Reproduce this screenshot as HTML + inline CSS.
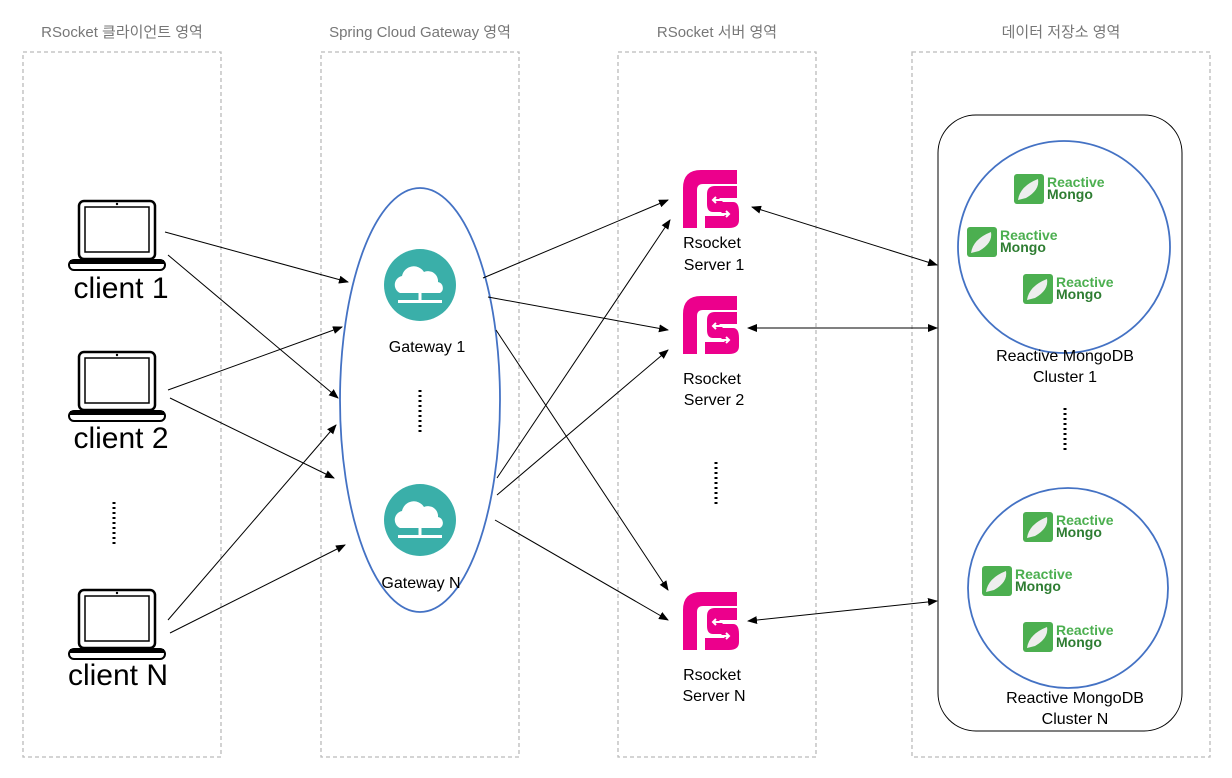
<!DOCTYPE html>
<html><head><meta charset="utf-8"><style>
html,body{margin:0;padding:0;background:#fff}
svg{display:block}
text{font-family:"Liberation Sans","Noto Sans CJK KR",sans-serif}
</style></head><body>
<svg width="1232" height="778" viewBox="0 0 1232 778" xmlns="http://www.w3.org/2000/svg">
<defs>
<marker id="a" markerWidth="10" markerHeight="8" refX="9" refY="4" orient="auto-start-reverse" markerUnits="userSpaceOnUse"><path d="M0,0 L10,4 L0,8 z" fill="#000"/></marker>
<g id="lap">
<rect x="12" y="0" width="76" height="58" rx="5" fill="none" stroke="#000" stroke-width="2.5"/>
<rect x="18" y="6" width="64" height="45" fill="none" stroke="#000" stroke-width="1.5"/>
<circle cx="50" cy="3" r="1.2" fill="#000"/>
<rect x="2" y="59" width="96" height="10" rx="5" fill="none" stroke="#000" stroke-width="2"/>
<rect x="3" y="59" width="94" height="4" fill="#000"/>
</g>
<g id="gw">
<circle cx="0" cy="0" r="36" fill="#3aafa9"/>
<path d="M-20,8 a9,9 0 0 1 2,-17 a12,12 0 0 1 22,-4 a10,10 0 0 1 14,10 a6,6 0 0 1 2,11 z" fill="#fff"/>
<rect x="-1.5" y="8" width="3" height="8" fill="#fff"/>
<rect x="-22" y="15" width="44" height="3" fill="#fff"/>
</g>
<g id="rs">
<path d="M0,58 L0,18 Q0,0 18,0 L54,0 L54,14 L20,14 Q14,14 14,20 L14,58 z" fill="#ec008c"/>
<path d="M24,24 Q24,16 32,16 L54,16 L54,28 L36,28 L40,32 L50,32 Q56,32 56,42 L56,50 Q56,58 46,58 L22,58 L22,46 L42,46 L38,42 L30,42 Q24,42 24,34 z" fill="#ec008c"/>
<path d="M30,30 L44,30 M33,27 L30,30 L33,33 M30,44 L46,44 M43,41 L46,44 L43,47" stroke="#fff" stroke-width="2" fill="none"/>
</g>
<g id="mg">
<rect x="0" y="0" width="30" height="30" rx="3" fill="#4caf50"/>
<path d="M4,26 Q6,12 24,5 Q26,16 12,24 z" fill="#eee"/>
<text x="33" y="13" font-size="14" font-weight="bold" fill="#4caf50">Reactive</text>
<text x="33" y="25" font-size="14" font-weight="bold" fill="#2e7d32">Mongo</text>
</g>
</defs>
<g font-size="15" fill="#777" text-anchor="middle">
<text x="122" y="37">RSocket 클라이언트 영역</text>
<text x="420" y="37">Spring Cloud Gateway 영역</text>
<text x="717" y="37">RSocket 서버 영역</text>
<text x="1061" y="37">데이터 저장소 영역</text>
</g>
<g fill="none" stroke="#bbb" stroke-width="1.3" stroke-dasharray="4,3">
<rect x="23" y="52" width="198" height="705"/>
<rect x="321" y="52" width="198" height="705"/>
<rect x="618" y="52" width="198" height="705"/>
<rect x="912" y="52" width="298" height="705"/>
</g>
<use href="#lap" x="67" y="201"/>
<use href="#lap" x="67" y="352"/>
<use href="#lap" x="67" y="590"/>
<g font-size="30" text-anchor="middle" fill="#000">
<text x="121" y="298">client 1</text>
<text x="121" y="448">client 2</text>
<text x="118" y="685">client N</text>
</g>
<line x1="114" y1="502" x2="114" y2="547" stroke="#000" stroke-width="3" stroke-dasharray="2,3"/>
<ellipse cx="420" cy="400" rx="80" ry="212" fill="none" stroke="#4472c4" stroke-width="1.8"/>
<use href="#gw" x="420" y="285"/>
<use href="#gw" x="420" y="520"/>
<g font-size="16" text-anchor="middle" fill="#000">
<text x="427" y="352">Gateway 1</text>
<text x="421" y="588">Gateway N</text>
</g>
<line x1="420" y1="390" x2="420" y2="434" stroke="#000" stroke-width="3" stroke-dasharray="2,3"/>
<use href="#rs" x="683" y="170"/>
<use href="#rs" x="683" y="296"/>
<use href="#rs" x="683" y="592"/>
<g font-size="16" text-anchor="middle" fill="#000">
<text x="712" y="248">Rsocket</text><text x="714" y="270">Server 1</text>
<text x="712" y="384">Rsocket</text><text x="714" y="405">Server 2</text>
<text x="712" y="680">Rsocket</text><text x="714" y="701">Server N</text>
</g>
<line x1="716" y1="462" x2="716" y2="506" stroke="#000" stroke-width="3" stroke-dasharray="2,3"/>
<rect x="938" y="115" width="244" height="616" rx="38" fill="none" stroke="#000" stroke-width="1"/>
<circle cx="1064" cy="247" r="106" fill="none" stroke="#4472c4" stroke-width="1.8"/>
<circle cx="1068" cy="588" r="100" fill="none" stroke="#4472c4" stroke-width="1.8"/>
<use href="#mg" x="1014" y="174"/>
<use href="#mg" x="967" y="227"/>
<use href="#mg" x="1023" y="274"/>
<use href="#mg" x="1023" y="512"/>
<use href="#mg" x="982" y="566"/>
<use href="#mg" x="1023" y="622"/>
<g font-size="16" text-anchor="middle" fill="#000">
<text x="1065" y="361">Reactive MongoDB</text><text x="1065" y="382">Cluster 1</text>
<text x="1075" y="703">Reactive MongoDB</text><text x="1075" y="724">Cluster N</text>
</g>
<line x1="1065" y1="408" x2="1065" y2="452" stroke="#000" stroke-width="3" stroke-dasharray="2,3"/>
<g stroke="#000" stroke-width="1" marker-end="url(#a)">
<line x1="165" y1="232" x2="348" y2="282"/>
<line x1="168" y1="255" x2="338" y2="398"/>
<line x1="168" y1="390" x2="342" y2="327"/>
<line x1="170" y1="398" x2="334" y2="478"/>
<line x1="168" y1="620" x2="336" y2="425"/>
<line x1="170" y1="633" x2="345" y2="545"/>
<line x1="483" y1="278" x2="668" y2="200"/>
<line x1="488" y1="297" x2="668" y2="330"/>
<line x1="496" y1="330" x2="668" y2="590"/>
<line x1="497" y1="478" x2="670" y2="220"/>
<line x1="497" y1="495" x2="668" y2="350"/>
<line x1="495" y1="520" x2="668" y2="620"/>
<line x1="752" y1="207" x2="937" y2="265" marker-start="url(#a)"/>
<line x1="748" y1="328" x2="937" y2="328" marker-start="url(#a)"/>
<line x1="748" y1="621" x2="937" y2="601" marker-start="url(#a)"/>
</g>
</svg>
</body></html>
